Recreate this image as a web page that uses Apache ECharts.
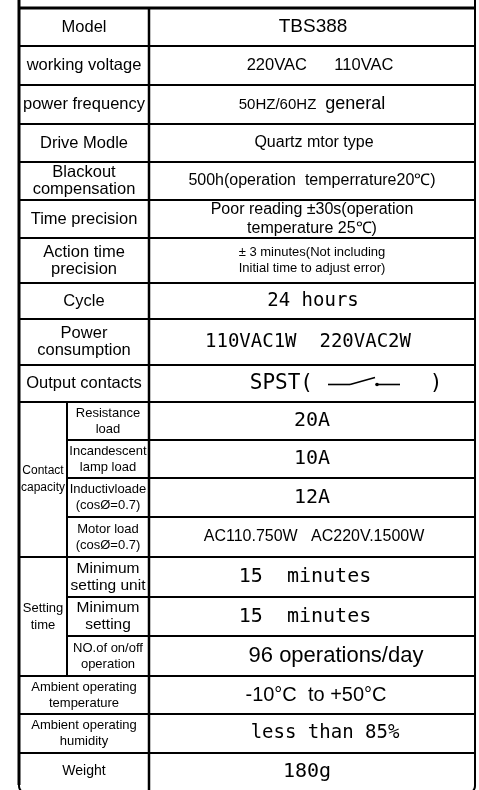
<!DOCTYPE html>
<html>
<head>
<meta charset="utf-8">
<script src="https://cdn.jsdelivr.net/npm/echarts@6/dist/echarts.min.js"></script>
<style>
html,body{margin:0;padding:0;background:#fff;}
#specChart{width:479px;height:790px;}
</style>
</head>
<body>
<div id="specChart"></div>
<script>
// 表格内容
const labels = ['Model', 'working voltage', 'power frequency', 'Drive Modle', 'Blackout\ncompensation',
  'Time precision', 'Action time\nprecision', 'Cycle', 'Power\nconsumption', 'Output contacts',
  'Resistance\nload', 'Incandescent\nlamp load', 'Inductivloade\n(cosØ=0.7)', 'Motor load\n(cosØ=0.7)',
  'Minimum\nsetting unit', 'Minimum\nsetting', 'NO.of on/off\noperation',
  'Ambient operating\ntemperature', 'Ambient operating\nhumidity', 'Weight'];
const values = ['TBS388', '220VAC      110VAC', '{s|50HZ/60HZ}  {b|general}', 'Quartz mtor type',
  '500h(operation  temperrature20℃)', 'Poor reading ±30s(operation\ntemperature 25℃)',
  '± 3 minutes(Not including\nInitial time to adjust error)', '24 hours', '110VAC1W  220VAC2W', 'SPST(',
  '20A', '10A', '12A', 'AC110.750W   AC220V.1500W', '15  minutes', '15  minutes', '96 operations/day',
  '-10°C  to +50°C', 'less than 85%', '180g'];
const groupNames = ['Contact\ncapacity', 'Setting\ntime'];
const groupFirst = [10, 14];
const groupRows = [4, 3];
const switchRow = 9;

// 版式
const rowHeights = [38, 39, 39, 38, 38, 38, 45, 36, 46, 37, 38, 38, 39, 40, 40, 39, 40, 38, 39, 37];
const colSub = 48, colMain = 130, colEnd = 456;
const labelSize = [16.5, 16.5, 16.5, 16.5, 16.5, 16.5, 16.5, 16.5, 16.5, 16.5, 13, 13, 13, 13, 15.5, 15.5, 13, 13, 13, 14];
const groupSize = [12, 13];
const valueSize = [19, 16.5, 16, 16, 16, 16, 13, 19, 19, 21, 20, 20, 20, 16, 20, 20, 22, 20, 19, 20];
const valueMono = [0, 0, 0, 0, 0, 0, 0, 1, 1, 1, 1, 1, 1, 0, 1, 1, 0, 0, 1, 1];
const valueShift = [1, 8, 0, 2, 0, 0, 0, 1, -4, 0, 0, 0, 0, 2, -7, -7, 24, 4, 13, -5];

const SANS = '"Liberation Sans", Arial, sans-serif';
const MONO = '"DejaVu Sans Mono", monospace';

const totalH = rowHeights.reduce((a, b) => a + b, 0);
const rowTop = [];
let acc = 0;
rowHeights.forEach(h => { rowTop.push(acc); acc += h; });

function groupOf(i) {
  for (let g = 0; g < groupFirst.length; g++) {
    if (i >= groupFirst[g] && i < groupFirst[g] + groupRows[g]) return g;
  }
  return -1;
}

function txt(text, x, y, size, family, extra) {
  return {
    type: 'text',
    style: Object.assign({
      text: text, x: x, y: y, align: 'center', verticalAlign: 'middle',
      fontSize: size, fontFamily: family, fill: '#000', lineHeight: Math.round(size * 1.05)
    }, extra || {})
  };
}

function line(a, b, w) {
  return {type: 'line', shape: {x1: a[0], y1: a[1], x2: b[0], y2: b[1]}, style: {stroke: '#000', lineWidth: w}};
}

function renderRow(params, api) {
  const i = api.value(0);
  const g = groupOf(i);
  const y0 = rowTop[i], y1 = y0 + rowHeights[i];
  const lastInGroup = g >= 0 && i === groupFirst[g] + groupRows[g] - 1;
  const from = (g >= 0 && !lastInGroup) ? colSub : 0;
  const midY = api.coord([0, (y0 + y1) / 2])[1];
  const labelX = api.coord([g >= 0 ? (colSub + colMain) / 2 : colMain / 2, 0])[0];
  const cx = api.coord([(colMain + colEnd) / 2, 0])[0];
  const children = [];
  // 最后一行的底边由外框画出
  if (i < labels.length - 1) children.push(line(api.coord([from, y1]), api.coord([colEnd, y1]), 2));

  children.push(txt(labels[i], labelX, midY, labelSize[i], SANS, {lineHeight: labelSize[i] > 14 ? 17 : 16}));

  if (i === switchRow) {
    const f = valueMono[i] ? MONO : SANS;
    children.push(txt(values[i], cx + 1, midY, valueSize[i], f, {align: 'right'}));
    children.push(txt(')', cx + 124, midY, valueSize[i], f));
    const sy = midY + 1;
    children.push(line([cx + 16, sy], [cx + 38, sy], 1.6));
    children.push(line([cx + 38, sy], [cx + 63, sy - 7], 1.6));
    children.push({type: 'circle', shape: {cx: cx + 65, cy: sy, r: 1.8}, style: {fill: '#000'}});
    children.push(line([cx + 65, sy], [cx + 88, sy], 1.6));
  } else {
    children.push(txt(values[i], cx + valueShift[i], midY, valueSize[i], valueMono[i] ? MONO : SANS, {
      lineHeight: valueSize[i] > 14 ? 19 : 16,
      rich: {
        s: {fontSize: 15, fontFamily: SANS},
        b: {fontSize: 18, fontFamily: SANS}
      }
    }));
  }

  if (g >= 0 && i === groupFirst[g]) {
    const last = groupFirst[g] + groupRows[g] - 1;
    const gy1 = rowTop[last] + rowHeights[last];
    children.push(line(api.coord([colSub, y0]), api.coord([colSub, gy1]), 2));
    const gy = api.coord([0, (y0 + gy1) / 2])[1];
    children.push(txt(groupNames[g], api.coord([colSub / 2, 0])[0], gy, groupSize[g], SANS, {lineHeight: 17}));
  }
  return {type: 'group', children: children};
}

function renderFrame(params, api) {
  const tl = api.coord([0, -20]);
  const br = api.coord([colEnd, totalH + 3]);
  return {
    type: 'group',
    children: [
      {type: 'rect', shape: {x: tl[0], y: tl[1], width: br[0] - tl[0], height: br[1] - tl[1], r: 7},
        style: {fill: 'none', stroke: '#000', lineWidth: 2}},
      line(api.coord([0, -20]), api.coord([0, totalH - 5]), 3),
      line(api.coord([0, 0]), api.coord([colEnd, 0]), 3),
      line(api.coord([colMain, 0]), api.coord([colMain, totalH + 3]), 2.5)
    ]
  };
}

const chart = echarts.init(document.getElementById('specChart'));
chart.setOption({
  animation: false,
  backgroundColor: '#fff',
  grid: {left: 19, top: 8, width: colEnd, height: totalH},
  xAxis: {type: 'value', min: 0, max: colEnd, show: false},
  yAxis: {type: 'value', min: 0, max: totalH, inverse: true, show: false},
  series: [
    {
      type: 'custom',
      renderItem: renderRow,
      clip: false,
      data: labels.map((l, i) => [i])
    },
    {
      type: 'custom',
      renderItem: renderFrame,
      clip: false,
      data: [[0]]
    }
  ]
});
</script>
</body>
</html>
